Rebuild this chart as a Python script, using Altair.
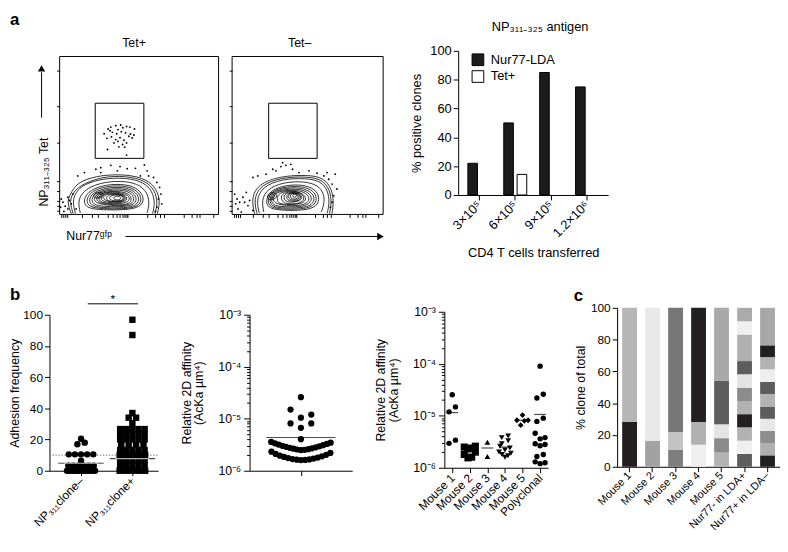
import math
import altair as alt
import pandas as pd

FONT = "Liberation Sans"

# ======================= DATA =======================
# ---- panel a: flow plots (display units 0-100 inside each frame) ----
flow_xticks = [1.2, 2.4, 3.6, 5, 14, 20, 23.9, 30, 33.5, 36, 38, 39.5, 40.8, 41.8, 42.6,
               55, 60, 63, 65.4, 78, 83, 86, 88.2, 97]
flow_yticks = [2.5, 5.5, 8.4, 15, 21.3, 45.3, 68.3, 91.2]
flow_domain = [0, 100]

tetpos_gate_x = [22.4, 53.0]
tetpos_gate_y = [35.5, 70.4]
tetneg_gate_x = [24.2, 56.3]
tetneg_gate_y = [35.5, 70.4]

tetpos_open = [
    [(7.3, 0.4), (4.8, 7.7), (6.2, 11.9), (9.1, 17.1), (13.5, 21.3), (25.9, 25.0), (42.6, 25.4),
     (55.0, 22.3), (61.2, 16.0), (63.3, 7.7), (61.4, 0.4)],
    [(8.5, 0.5), (6.3, 8), (8, 13), (12, 18), (26, 24), (42, 24.4), (54, 21.5), (60, 15.3), (61.7, 7.3), (60, 0.5)],
    [(10, 0.6), (8, 8), (10, 14), (15, 19), (27, 22.8), (42, 23.3), (53, 20.5), (58.5, 14.5),
     (60, 7), (58.5, 0.6)],
    [(13, 1), (11.5, 8), (14, 13.5), (19, 17.5), (29, 20.8), (42, 21.2), (51, 18.5), (55.5, 13),
     (56.5, 6.5), (55, 1)],
]
tetpos_closed = [
    [(16, 4), (15, 10), (19, 15.5), (29, 19), (42, 19.3), (50, 16), (53.5, 10), (51, 4.5), (41, 2.8), (27, 2.8)],
    [(17.5, 4.8), (16.8, 10.2), (20.5, 15), (30, 18.1), (42, 18.3), (49.3, 14.9), (52, 9.5), (49.3, 4.7), (39.5, 3.4), (27, 3.5)],
    [(19, 5.5), (18.5, 10.5), (22, 14.5), (31, 17.2), (42, 17.3), (48.5, 13.8), (50.5, 9), (47.5, 5), (38, 4), (27, 4.2)],
    [(20.5, 6.2), (20, 10.8), (23.5, 14.2), (32, 16.4), (42, 16.3), (47.5, 12.9), (48.8, 8.5), (45, 5.2), (35.5, 4.8), (28, 5)],
    [(22, 7), (21.5, 11), (25, 14), (33, 15.6), (42, 15.3), (46.5, 12), (47, 8), (42.5, 5.5), (33, 5.5)],
    [(23.2, 7.5), (23, 11.5), (27, 14), (35, 14.9), (42.8, 13.8), (45.5, 10.4), (44.5, 7.3), (40.5, 6), (32, 6.1)],
    [(24.5, 8), (24.5, 12), (29, 14), (37, 14.3), (43.5, 12.3), (44.5, 8.8), (39.5, 6.6), (31, 6.8)],
    [(26, 8.5), (26, 12.2), (30.8, 13.6), (38.2, 13.5), (42.8, 11.2), (42, 8.3), (36.5, 7.2), (32, 7.3)],
    [(27.5, 9), (27.5, 12.3), (32.5, 13.3), (39.5, 12.8), (42.2, 10.2), (39.5, 7.8), (33, 7.8)],
    [(29.2, 9.1), (29.5, 12), (34.2, 13), (40, 12.1), (41.2, 9.7), (37.7, 8), (32.5, 8.1)],
    [(31, 9.2), (31.5, 11.8), (36, 12.6), (40.2, 11.5), (40.2, 9.2), (36, 8.3)],
    [(33.8, 9.7), (34, 11.2), (36.6, 11.8), (38.6, 10.9), (38.2, 9.4), (36, 9)],
    [(20.5, 11), (22.5, 14.2), (27.5, 13.8), (27.8, 11), (24, 10)],
    [(22.8, 11.6), (24, 13.3), (26.4, 13), (26.5, 11.3), (24.5, 10.8)],
]
tetpos_dots = [
    (30.5, 54.1), (32.2, 55.3), (35.3, 56.2), (38.4, 56.6), (36.7, 53.7), (39.8, 54.9), (42.1, 55.7),
    (44.2, 55.3), (47.1, 54.1), (33.2, 52.0), (35.9, 51.1), (38.8, 52.4), (41.5, 51.6), (44.6, 50.9),
    (29.7, 48.2), (32.6, 49.1), (35.3, 47.4), (38.0, 48.6), (40.5, 47.0), (43.6, 49.5), (45.6, 48.4),
    (46.7, 50.3), (34.2, 45.3), (36.7, 46.3), (39.6, 44.3), (42.1, 45.3), (30.1, 41.1), (37.3, 42.8),
    (40.9, 42.6), (42.1, 37.6), (28.0, 51.1), (31.7, 53.0),
    (1.0, 9.8), (2.1, 7.7), (3.5, 5.2), (5.2, 10.9), (6.2, 8.8), (7.3, 6.7), (8.3, 12.9), (10.4, 3.5),
    (0.6, 4.6), (2.7, 1.9), (5.2, 3.5), (22.8, 28.6), (25.9, 29.6), (32.2, 31.1), (38.0, 30.3),
    (42.5, 29.0), (47.7, 29.2), (53.3, 31.3), (55.0, 27.6), (15.6, 26.5), (11.4, 24.4), (50.8, 24.4),
    (59.1, 23.4), (61.2, 20.3), (62.9, 17.1), (63.7, 12.9), (62.2, 9.8), (64.3, 6.7), (61.2, 4.6),
    (60.2, 1.9), (56.0, 24.4), (25.9, 26.5), (36.3, 27.6),
]

tetneg_open = [
    [(14.9, 0.4), (12.7, 9.8), (17.0, 19.2), (32.4, 24.4), (49.8, 25.0), (60.7, 23.4), (66.1, 16.0),
     (67.3, 7.7), (66.1, 0.4)],
    [(16.5, 0.6), (14.3, 9.4), (18.5, 18.4), (32.7, 23.5), (49.4, 24), (59.8, 22.2), (64.8, 15.5), (65.9, 7.6), (64.5, 0.6)],
    [(18, 0.8), (16, 9), (20, 17.5), (33, 22.5), (49, 23), (59, 21), (63.5, 15), (64.5, 7.5), (63, 0.8)],
    [(21, 1.5), (19.5, 9), (23, 16), (34, 20.5), (48, 21), (57, 18.5), (61, 13), (61, 6.5), (59, 1.5)],
]
tetneg_closed = [
    [(23, 4), (22.5, 10), (26, 15.5), (35, 18.5), (47, 19), (55, 16), (58, 11), (56.5, 5), (48, 2.5), (33, 2.5)],
    [(24, 4.8), (23.7, 10.5), (27, 15.2), (35.5, 17.6), (46.5, 18), (54, 15), (56.5, 10.2), (54.2, 5), (45.5, 3.2), (32.5, 3.2)],
    [(25, 5.5), (25, 11), (28, 15), (36, 16.8), (46, 17), (53, 14), (55, 9.5), (52, 5), (43, 4), (32, 4)],
    [(26, 6.2), (26, 11.5), (29.5, 14.8), (37, 16.1), (46, 16), (52, 13), (53, 8.7), (49, 5.2), (39.5, 4.7), (32, 4.9)],
    [(27, 7), (27, 12), (31, 14.5), (38, 15.5), (46, 15), (51, 12), (51, 8), (46, 5.5), (36, 5.5)],
    [(30, 7.5), (29.5, 12.2), (34, 14.6), (41, 15), (47, 13.3), (49.5, 9.8), (46.5, 6.8), (39, 6.1), (33, 6.5)],
    [(33, 8), (32, 12.5), (37, 14.5), (44, 14.5), (48, 11.5), (47, 8), (42, 6.5), (36, 6.8)],
    [(34.5, 8.5), (34, 12.8), (39, 14.2), (45, 13.5), (46.8, 10.3), (44, 8.3), (38.5, 7.5)],
    [(36, 9), (36, 13), (41, 14), (46, 12.5), (45, 9), (41, 8)],
    [(37.2, 9.6), (37.2, 13), (41.2, 13.8), (45, 12.3), (44.2, 9.5), (41, 8.8)],
    [(38.5, 10.2), (38.5, 13), (41.5, 13.5), (44, 12), (43.2, 10), (41, 9.5)],
    [(40, 11), (40, 12.8), (42, 13), (43, 11.8), (41.8, 10.8)],
    [(23, 10), (24, 14), (29, 14), (30, 10.5), (26, 9)],
    [(24.5, 11), (25, 13), (28, 13), (28.5, 11), (26.5, 10.2)],
]
tetneg_dots = [
    (1.7, 12.9), (3.3, 9.8), (5.0, 7.7), (7.2, 10.9), (9.4, 14.0), (10.5, 5.6), (3.9, 3.5), (6.1, 1.5),
    (8.3, 7.7), (11.6, 8.8), (13.8, 2.5), (2.4, 6.7), (13.8, 23.4), (17.0, 24.4), (22.5, 25.5),
    (29.0, 27.6), (32.3, 30.3), (35.6, 31.1), (38.9, 31.7), (40.0, 28.6), (44.3, 26.5), (50.9, 27.6),
    (56.3, 26.1), (60.7, 24.4), (64.0, 22.3), (66.2, 19.2), (68.3, 25.5), (67.2, 11.9), (66.2, 7.7),
    (65.1, 4.6), (69.4, 16.1), (62.9, 26.5), (26.9, 28.6), (33.4, 32.8),
]

# ---- panel a: bar chart ----
bar_cats = ["3×10⁵", "6×10⁵", "9×10⁵", "1.2×10⁶"]
bar_series = ["Nur77-LDA", "Tet+"]
bar_fills = ["#1c1c1c", "white"]
nur77_lda = [22, 50, 85, 75]
tet_pos = [0, 14.3, 0, 0]

# ---- panel b1: adhesion frequency ----
b1_cats = ["NP₃₁₁clone–", "NP₃₁₁clone+"]
b1_clone_neg = [20.5, 18, 17, 10.5, 10.5, 10.5, 10.5, 10.5, 6.5,
                3.3, 3.3, 3.3, 3.3, 3.3, 3.3,
                0, 0, 0, 0, 0, 0, 0, 0, 0, 0, 0, 0]
b1_clone_pos = [96.8, 87, 37, 34, 34, 30.4,
                26.7, 26.7, 26.7, 26.7, 26.7, 23.3, 23.3, 23.3, 23.3, 23.3,
                20, 20, 20, 20, 20, 16.7, 16.7, 16.7, 16.7,
                13.3, 13.3, 13.3, 13.3, 13.3, 10, 10, 10, 10, 10, 10,
                6.7, 6.7, 6.7, 6.7, 6.7, 3.3, 3.3, 3.3, 3.3, 3.3,
                0, 0, 0, 0, 0, 0]
b1_means = [4.8, 7.8]
b1_threshold = 10
b1_xdomain = [-0.615, 1.5]
b1_sig_x = [0.13, 1.11]
b1_sig_y = 107

# ---- panel b2: relative 2D affinity (x 1e-6) ----
b2_affinity = [26, 15, 12, 10.5, 8.1, 8.1, 6.7, 4.05,
               2.5, 2.52, 2.56, 2.6, 2.65, 2.7, 2.76, 2.82, 2.88, 2.95, 3.02, 3.1, 3.18, 3.27, 3.36, 3.46, 3.58,
               1.6, 1.61, 1.63, 1.65, 1.68, 1.71, 1.75, 1.79, 1.84, 1.89, 1.95, 2.02, 2.1, 2.2, 2.32]
b2_mean = 4.36

# ---- panel b3: per mouse (x 1e-6) ----
b3_cats = ["Mouse 1", "Mouse 2", "Mouse 3", "Mouse 4", "Mouse 5", "Polyclonal"]
b3_values = [
    [25.4, 14.8, 11.9, 3.4, 2.95],
    [2.6, 2.5, 2.4, 2.3, 2.0, 1.8, 1.6, 1.55],
    [3.1, 1.65],
    [4.1, 3.8, 3.3, 2.9, 2.6, 2.4, 2.2, 2.0, 1.9, 1.8, 1.7, 1.6],
    [10.3, 8.2, 8.2, 8.0, 6.6],
    [90, 26, 22, 9.0, 7.8, 4.6, 3.8, 3.6, 2.9, 2.8, 2.65, 1.8, 1.65, 1.3, 1.25, 1.2],
]
b3_means = [11.5, 2.2, 2.4, 2.5, 8.2, 10.6]

# ---- panel c: clone composition (cumulative segment tops, %) ----
c_cats = ["Mouse 1", "Mouse 2", "Mouse 3", "Mouse 4", "Mouse 5", "Nur77- in LDA+", "Nur77+ in LDA–"]
c_tops = [
    [28.2, 100],
    [16.4, 100],
    [10.8, 21.9, 100],
    [13.9, 28.2, 100],
    [8.9, 18.0, 26.7, 54.2, 100],
    [8.1, 16.4, 24.8, 33.1, 41.4, 49.7, 58.2, 66.5, 83.2, 91.5, 100],
    [7.2, 14.9, 22.6, 30.2, 37.9, 45.8, 53.4, 61.3, 69.0, 76.4, 100],
]
c_shades = [
    ["#231f20", "#b6b6b6"],
    ["#a2a2a2", "#e8e8e8"],
    ["#7e7e7e", "#c3c3c3", "#777777"],
    ["#efefef", "#b1b1b1", "#231f20"],
    ["#b3b3b3", "#8b8b8b", "#e4e4e4", "#5d5d5d", "#a9a9a9"],
    ["#5d5d5d", "#efefef", "#b3b3b3", "#231f20", "#b1b1b1", "#8c8c8c", "#e3e3e3", "#5d5d5d",
     "#b0b0b0", "#efefef", "#aaaaaa"],
    ["#231f20", "#b0b0b0", "#8e8e8e", "#e8e8e8", "#5d5d5d", "#b3b3b3", "#5d5d5d", "#eeeeee",
     "#b3b3b3", "#231f20", "#a8a8a8"],
]


# ======================= HELPERS =======================
def swarm_offsets(vals, to_px, row_h, sp_max, max_w):
    """GraphPad-like scatter layout: returns horizontal pixel offsets."""
    order = sorted(range(len(vals)), key=lambda i: vals[i])
    rows = []
    for i in order:
        p = to_px(vals[i])
        if rows and p - rows[-1][0] <= row_h:
            rows[-1][1].append(i)
        else:
            rows.append((p, [i]))
    offs = [0.0] * len(vals)
    for _, members in rows:
        k = len(members)
        sp = min(sp_max, max_w / k) if k > 1 else 0
        pos = []
        for j in range(k):
            if j == 0:
                pos.append(0.0)
            elif j % 2 == 1:
                pos.append(((j + 1) // 2) * sp)
            else:
                pos.append(-(j // 2) * sp)
        shift = (max(pos) + min(pos)) / 2
        for m, p in zip(members, pos):
            offs[m] = p - shift
    return offs


ONE = pd.DataFrame({"k": [0]})


def note(text, x, y, **kw):
    return alt.Chart(ONE).mark_text(text=text, font=FONT, color="black", **kw).encode(
        x=alt.value(x), y=alt.value(y))


def flow_panel(open_c, closed_c, dots, gx, gy, title, title_dx, ox, pw, cw, oy, ph, extras):
    open_rows = [{"c": ci, "i": j, "x": x, "y": y} for ci, c in enumerate(open_c) for j, (x, y) in enumerate(c)]
    closed_rows = [{"c": ci, "i": j, "x": x, "y": y} for ci, c in enumerate(closed_c) for j, (x, y) in enumerate(c)]
    dot_rows = pd.DataFrame([{"x": x, "y": y} for x, y in dots])
    ch = oy + ph
    xs = alt.Scale(domain=flow_domain, nice=False, zero=False, range=[ox, ox + pw])
    ys = alt.Scale(domain=flow_domain, nice=False, zero=False, range=[ch, oy])
    xax = alt.Axis(values=flow_xticks, labels=False, domain=False, title=None, tickSize=3, grid=False)
    yax = alt.Axis(values=flow_yticks, labels=False, domain=False, title=None, tickSize=3, grid=False,
                   offset=-ox)
    X = alt.X("x:Q", scale=xs, axis=xax)
    Y = alt.Y("y:Q", scale=ys, axis=yax)
    frame = alt.Chart(pd.DataFrame({"x": [flow_domain[0]], "x2": [flow_domain[1]],
                                    "y": [flow_domain[0]], "y2": [flow_domain[1]]})).mark_rect(
        fillOpacity=0, stroke="black", strokeWidth=1
    ).encode(x=X, x2="x2:Q", y=Y, y2="y2:Q")
    gate = alt.Chart(pd.DataFrame({"x": [gx[0]], "x2": [gx[1]], "y": [gy[0]], "y2": [gy[1]]})).mark_rect(
        fillOpacity=0, stroke="black", strokeWidth=1
    ).encode(x=X, x2="x2:Q", y=Y, y2="y2:Q")
    l_open = alt.Chart(pd.DataFrame(open_rows)).mark_line(
        interpolate="basis", color="black", strokeWidth=0.8
    ).encode(x=X, y=Y, detail="c:N", order="i:Q")
    l_closed = alt.Chart(pd.DataFrame(closed_rows)).mark_line(
        interpolate="basis-closed", color="black", strokeWidth=0.8
    ).encode(x=X, y=Y, detail="c:N", order="i:Q")
    pts = alt.Chart(dot_rows).mark_circle(size=3.5, color="black", opacity=1).encode(x=X, y=Y)
    return alt.layer(frame, gate, l_open, l_closed, pts, *extras).properties(
        width=cw, height=ch,
        title=alt.TitleParams(title, fontSize=12.5, fontWeight="normal", offset=1, dx=title_dx, font=FONT),
    )


# ======================= PANEL a =======================
f1_extras = [
    alt.Chart(ONE).mark_rule(color="black", strokeWidth=1).encode(
        x=alt.value(-8), y=alt.value(21.7), y2=alt.value(67.7)),
    alt.Chart(ONE).mark_point(shape="triangle-up", filled=True, color="black", size=55, opacity=1).encode(
        x=alt.value(-8), y=alt.value(17.7)),
    note("NP₃₁₁₋₃₂₅ Tet", -5.2, 157.7, fontSize=12.5, angle=270, align="left", baseline="middle"),
    note("Nur77ᵍᶠᵖ", 17, 188, fontSize=12.5, align="left", baseline="middle"),
    alt.Chart(ONE).mark_rule(color="black", strokeWidth=1).encode(
        x=alt.value(77), x2=alt.value(332.3), y=alt.value(188)),
    alt.Chart(ONE).mark_point(shape="triangle-right", filled=True, color="black", size=60, opacity=1).encode(
        x=alt.value(335.3), y=alt.value(188)),
]
F1 = flow_panel(tetpos_open, tetpos_closed, tetpos_dots, tetpos_gate_x, tetpos_gate_y, "Tet+", 0,
                10.3, 161, 171.3, 5.7, 160, f1_extras)
F2 = flow_panel(tetneg_open, tetneg_closed, tetneg_dots, tetneg_gate_x, tetneg_gate_y, "Tet–", -8,
                0, 153, 153, 5.7, 160, [])

bar_rows = []
for c, a, b in zip(bar_cats, nur77_lda, tet_pos):
    bar_rows.append({"cat": c, "series": bar_series[0], "value": a})
    bar_rows.append({"cat": c, "series": bar_series[1], "value": b})
bar_df = pd.DataFrame(bar_rows)

bars = alt.Chart(bar_df).transform_filter("datum.value > 0").mark_bar(stroke="black", strokeWidth=1).encode(
    x=alt.X("cat:N", sort=bar_cats, scale=alt.Scale(paddingInner=0.36, paddingOuter=0.27, range=[14, 166]),
            axis=alt.Axis(title="CD4 T cells transferred", labelAngle=-45, labelAlign="right",
                          labelBaseline="middle", labelFontSize=13, titleFontSize=13, labelPadding=3,
                          titleY=52, tickSize=5, labelOverlap=False)),
    xOffset=alt.XOffset("series:N", sort=bar_series, scale=alt.Scale(paddingInner=0.28)),
    y=alt.Y("value:Q", scale=alt.Scale(domain=[0, 100], nice=False),
            axis=alt.Axis(values=[0, 20, 40, 60, 80, 100], title="% positive clones", labelFontSize=13,
                          titleFontSize=13, titlePadding=6, labelPadding=2, offset=-14, labelOverlap=False)),
    fill=alt.Fill("series:N", scale=alt.Scale(domain=bar_series, range=bar_fills), legend=None),
)
legend_layers = []
for k, (name, col) in enumerate(zip(bar_series, bar_fills)):
    legend_layers.append(alt.Chart(ONE).mark_point(shape="square", filled=True, fill=col, stroke="black",
                                                   strokeWidth=1, size=140, opacity=1).encode(
        x=alt.value(34), y=alt.value(9 + 17 * k)))
    legend_layers.append(note(name, 47, 9 + 17 * k, fontSize=13, align="left", baseline="middle"))
BAR = alt.layer(bars, *legend_layers).properties(
    width=166, height=146,
    title=alt.TitleParams("NP₃₁₁₋₃₂₅ antigen", fontSize=13, fontWeight="normal", offset=11, dx=14, font=FONT))

SPACER = alt.Chart(ONE).mark_point(opacity=0).encode(
    x=alt.X("k:Q", axis=None), y=alt.Y("k:Q", axis=None)).properties(width=1, height=1)

# ======================= PANEL b1 =======================
b1_rows = []
for g, vals, shp in [(0, b1_clone_neg, "circle"), (1, b1_clone_pos, "square")]:
    offs = swarm_offsets(vals, lambda v: v * 1.58, 4.5, 7.5, 31)
    for v, o in zip(vals, offs):
        b1_rows.append({"x": g + o / 52.0, "y": v, "shape": shp})
b1_df = pd.DataFrame(b1_rows)
b1_mean_df = pd.DataFrame({"x": [0, 1], "y": b1_means})

b1x = alt.X("x:Q", scale=alt.Scale(domain=b1_xdomain, nice=False, zero=False, range=[0, 110]),
            axis=alt.Axis(values=[0, 1], title=None, labelAngle=-45, labelAlign="right", labelBaseline="middle",
                          labelPadding=3, labelOverlap=False,
                          labelExpr="datum.value == 0 ? '%s' : '%s'" % (b1_cats[0], b1_cats[1])))
b1y = alt.Y("y:Q", scale=alt.Scale(domain=[0, 100], nice=False, zero=False, range=[165, 7]),
            axis=alt.Axis(values=[0, 20, 40, 60, 80, 100], title="Adhesion frequency", titlePadding=1,
                          labelOverlap=False))
B1 = alt.layer(
    alt.Chart(b1_mean_df).mark_tick(orient="horizontal", size=46, thickness=1.2, color="black").encode(x=b1x, y=b1y),
    alt.Chart(pd.DataFrame({"x": [b1_xdomain[0]], "x2": [b1_xdomain[1]], "y": [b1_threshold]})).mark_rule(
        color="#777777", strokeDash=[1.5, 1.5], strokeWidth=1).encode(x=b1x, x2="x2:Q", y=b1y),
    alt.Chart(b1_df).mark_point(filled=True, color="black", opacity=1, size=42).encode(
        x=b1x, y=b1y, shape=alt.Shape("shape:N", scale=None)),
    alt.Chart(b1_mean_df).mark_tick(orient="horizontal", size=34, thickness=1.2, color="white").encode(x=b1x, y=b1y),
    alt.Chart(pd.DataFrame({"x": [b1_sig_x[0]], "x2": [b1_sig_x[1]], "y": [b1_sig_y]})).mark_rule(
        color="black", strokeWidth=1).encode(x=b1x, x2="x2:Q", y=b1y),
    alt.Chart(pd.DataFrame({"x": [sum(b1_sig_x) / 2], "y": [b1_sig_y + 6]})).mark_text(
        text="*", fontSize=12, font=FONT, baseline="top", color="black").encode(x=b1x, y=b1y),
    note("b", -40, -21, fontSize=17, fontWeight="bold", align="left", baseline="top"),
    note("a", -40, -299, fontSize=17, fontWeight="bold", align="left", baseline="top"),
).properties(width=184.3, height=165)

# ======================= log axis helpers =======================
log_ticks = [m * 10.0 ** e for e in (-6, -5, -4) for m in range(1, 10)] + [1e-3]
LG = "log(datum.value)/LN10"
major_test = "abs(%s - round(%s)) < 0.001" % (LG, LG)
log_label = ("abs(%s + 6) < 0.001 ? '10⁻⁶' : abs(%s + 5) < 0.001 ? '10⁻⁵' : "
             "abs(%s + 4) < 0.001 ? '10⁻⁴' : abs(%s + 3) < 0.001 ? '10⁻³' : ''") % (LG, LG, LG, LG)
aff_title = ["Relative 2D affinity", "(AcKa µm⁴)"]


def log_y(title_pad, rng, off):
    return alt.Y("y:Q", scale=alt.Scale(type="log", domain=[1e-6, 1e-3], nice=False, range=rng),
                 axis=alt.Axis(values=log_ticks, labelExpr=log_label, title=aff_title, titlePadding=title_pad,
                               titleLineHeight=13, offset=off, labelOverlap=False, labelFontSize=12.5,
                               tickSize={"condition": {"test": major_test, "value": 6}, "value": 3},
                               labelPadding=3))


def to_px_log(v):
    return 52.67 * math.log10(v)


# ======================= PANEL b2 =======================
b2_offs = swarm_offsets(b2_affinity, to_px_log, 9, 10.5, 64)
b2_df = pd.DataFrame({"x": [o / 52.0 for o in b2_offs], "y": [v * 1e-6 for v in b2_affinity]})
b2x = alt.X("x:Q", scale=alt.Scale(domain=[-1, 1], nice=False, zero=False, range=[17.7, 121.7]),
            axis=alt.Axis(values=[0], labels=False, title=None, tickSize=5))
b2y = log_y(12, [165, 7], -17.7)
B2 = alt.layer(
    alt.Chart(b2_df).mark_circle(color="black", opacity=1, size=40).encode(x=b2x, y=b2y),
    alt.Chart(pd.DataFrame({"x": [0], "y": [b2_mean * 1e-6]})).mark_tick(
        orient="horizontal", size=70, thickness=1.2, color="black").encode(x=b2x, y=b2y),
).properties(width=214.7, height=165)

# ======================= PANEL b3 =======================
b3_shape = ["circle", "square", "triangle-up", "triangle-down", "diamond", "circle"]
b3_size = [30, 52, 34, 34, 34, 30]
b3_rows = []
for g, vals in enumerate(b3_values):
    offs = swarm_offsets(vals, to_px_log, 6, 6.5, 15)
    for v, o in zip(vals, offs):
        b3_rows.append({"x": g + o / 17.8, "y": v * 1e-6, "shape": b3_shape[g], "sz": b3_size[g]})
b3_df = pd.DataFrame(b3_rows)
b3x = alt.X("x:Q", scale=alt.Scale(domain=[-0.45, 5.45], nice=False, zero=False, range=[0, 105]),
            axis=alt.Axis(values=list(range(6)), title=None, labelAngle=-45, labelAlign="right",
                          labelBaseline="middle", labelPadding=3, labelOverlap=False,
                          labelExpr="[%s][datum.value]" % ",".join("'%s'" % c for c in b3_cats)))
b3y = log_y(12, [162, 4], 0)
B3 = alt.layer(
    alt.Chart(b3_df).mark_point(filled=True, color="black", opacity=1).encode(
        x=b3x, y=b3y, shape=alt.Shape("shape:N", scale=None), size=alt.Size("sz:Q", scale=None)),
    alt.Chart(pd.DataFrame({"x": list(range(6)), "y": [m * 1e-6 for m in b3_means]})).mark_tick(
        orient="horizontal", size=12, thickness=1.2, color="black").encode(x=b3x, y=b3y),
).properties(width=175, height=162)

# ======================= PANEL c =======================
c_rows = []
for cat, tops, shades in zip(c_cats, c_tops, c_shades):
    lo = 0
    for t, s in zip(tops, shades):
        c_rows.append({"cat": cat, "lo": lo, "hi": t, "shade": s})
        lo = t
c_df = pd.DataFrame(c_rows)
C = alt.layer(
    alt.Chart(c_df).mark_bar().encode(
        x=alt.X("cat:N", sort=c_cats, scale=alt.Scale(paddingInner=0.356, paddingOuter=0.22),
                axis=alt.Axis(title=None, labelAngle=-45, labelAlign="right", labelBaseline="middle",
                              labelFontSize=11, labelPadding=2, labelOverlap=False)),
        y=alt.Y("lo:Q", scale=alt.Scale(domain=[0, 100], nice=False),
                axis=alt.Axis(values=[0, 20, 40, 60, 80, 100], title="% clone of total", titlePadding=3,
                              labelOverlap=False)),
        y2="hi:Q",
        fill=alt.Fill("shade:N", scale=None),
    ),
    note("c", -44, -20, fontSize=17, fontWeight="bold", align="left", baseline="top"),
).properties(width=165, height=161)

# ======================= LAYOUT (flat 2 x 4 grid) =======================
chart = alt.concat(
    F1, F2, BAR, SPACER,
    B1, B2, B3, C,
    columns=4, spacing={"row": 94.3, "column": 0}, bounds="flush", align="each",
).properties(padding=0).configure_view(
    strokeWidth=0
).configure_axis(
    labelFont=FONT, titleFont=FONT, labelFontSize=12, titleFontSize=12.5, titleFontWeight="normal",
    domainColor="black", tickColor="black", labelColor="black", titleColor="black", grid=False,
    tickSize=5, labelPadding=2, domainWidth=1, tickWidth=1, labelOverlap=False
).configure_title(font=FONT, color="black")

chart.save("out.html", embed_options={"renderer": "svg", "actions": False})
